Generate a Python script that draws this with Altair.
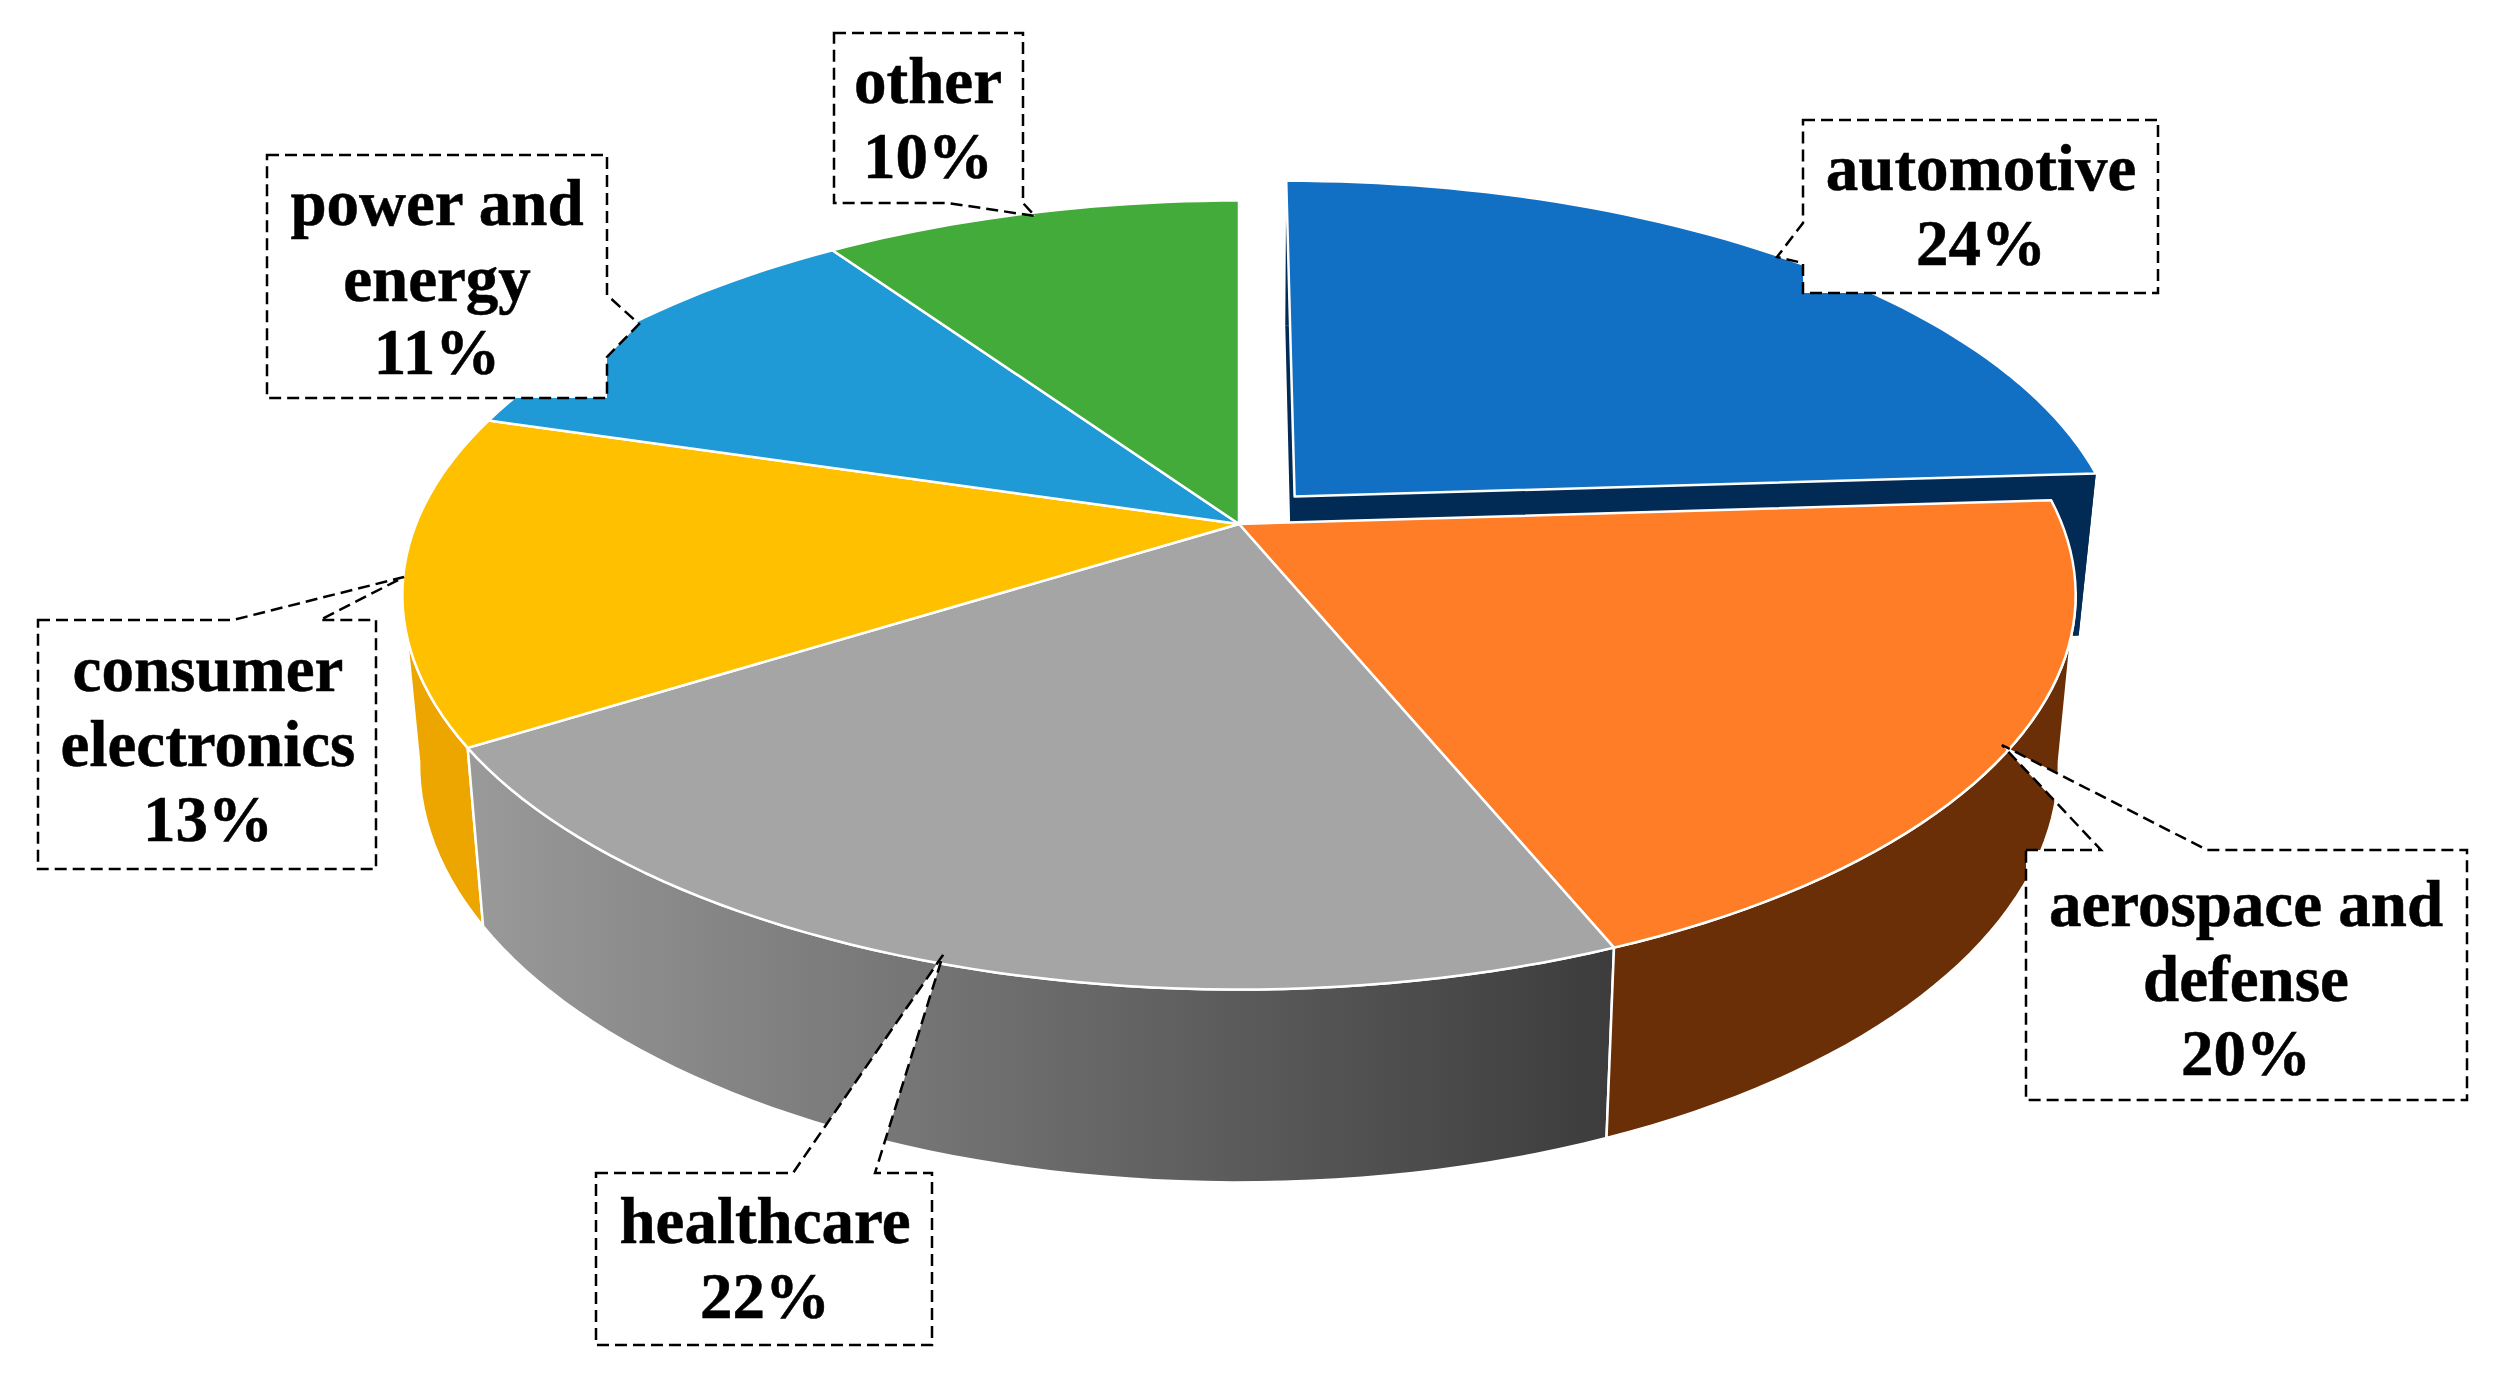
import math
import altair as alt

# ---- data -----------------------------------------------------------------
categories = ["automotive", "aerospace and defense", "healthcare",
              "consumer electronics", "power and energy", "other"]
shares = [24.0, 19.8, 22.3, 13.5, 10.8, 9.6]          # angular share of each slice
printed = ["24%", "20%", "22%", "13%", "11%", "10%"]  # percentages as printed
label_lines = [["automotive"], ["aerospace and", "defense"], ["healthcare"],
               ["consumer", "electronics"], ["power and", "energy"], ["other"]]

# ---- styles -----------------------------------------------------------------
top_colors = ["#1270C4", "#FF7D26", "#A5A5A5", "#FFC000", "#1F9AD6", "#43AB3A"]
wall_navy = "#012A55"
wall_brown = "#6A2F06"
wall_yellow = "#EDA600"
wall_gray = alt.LinearGradient(
    gradient="linear", x1=0, x2=1, y1=0, y2=0,
    stops=[alt.GradientStop(offset=0, color="#9A9A9A"),
           alt.GradientStop(offset=1, color="#3C3C3C")])

# ---- perspective of the disc (page pixels) ----------------------------------
CX, CY = 1239.0, 524.0
A, B, K = 823.0, 381.7, 0.18
DEPTH, SX, SY = 165.0, 0.98, 1.06
EXPLODE = 0.10
SIL_RIGHT, SIL_LEFT = 100.0, 260.0   # angles where the wall meets the outline


def project(u, v, low=False):
    w = 1 + K * v
    x, y = A * u / w, B * v / w
    if low:
        x, y = x * SX, y * SY - DEPTH
    return [CX + x, CY - y]


def rim(t0, t1, offset=(0, 0), low=False):
    n = max(2, int(abs(t1 - t0) / 1.5))
    pts = []
    for i in range(n + 1):
        t = math.radians(t0 + (t1 - t0) * i / n)
        pts.append(project(math.sin(t) + offset[0], math.cos(t) + offset[1], low))
    return pts


def feature(points):
    ring = points + [points[0]]
    return {"type": "Feature", "geometry": {"type": "Polygon", "coordinates": [ring]}, "properties": {}}


def shape(points, **mark):
    return (alt.Chart(alt.Data(values=[feature(points)]))
            .mark_geoshape(**mark)
            .project(type="identity", scale=1, translate=[-8, -8]))


edges = [0.0]
for s in shares:
    edges.append(edges[-1] + s * 3.6)

mid = math.radians((edges[0] + edges[1]) / 2)
off = (EXPLODE * math.sin(mid), EXPLODE * math.cos(mid))

layers = []
face = dict(stroke="white", strokeWidth=2.5, strokeJoin="round")

# exploded slice: its underside and walls sit behind everything
t0, t1 = edges[0], edges[1]
apex_top = project(off[0], off[1])
apex_low = project(off[0], off[1], low=True)
layers.append(shape([apex_low] + rim(t0, t1, off, low=True), fill=wall_navy))
layers.append(shape(rim(t0, t1, off) + rim(t1, t0, off, low=True), fill=wall_navy))
layers.append(shape([apex_top] + rim(t1, t1, off) + rim(t1, t1, off, low=True) + [apex_low], fill=wall_navy))

# outer walls of the front slices, trimmed at the outline of the disc
for i, fill in [(3, wall_yellow), (2, wall_gray), (1, wall_brown)]:
    a, b = max(edges[i], SIL_RIGHT), min(edges[i + 1], SIL_LEFT)
    layers.append(shape(rim(a, b) + rim(b, a, low=True), fill=fill, **face))

# top faces
for i in [1, 2, 3, 4, 5]:
    layers.append(shape([project(0, 0)] + rim(edges[i], edges[i + 1]), fill=top_colors[i], **face))
layers.append(shape([apex_top] + rim(t0, t1, off), fill=top_colors[0], **face))

# ---- call-outs (annotation placement, page pixels) --------------------------
callouts = [
    [[1803, 120], [2158, 120], [2158, 293], [1803, 293], [1803, 263], [1777, 257], [1803, 223]],
    [[2026, 850], [2101, 850], [2002, 745], [2207, 850], [2467, 850], [2467, 1100], [2026, 1100]],
    [[596, 1173], [793, 1173], [943, 955], [875, 1173], [932, 1173], [932, 1345], [596, 1345]],
    [[38, 620], [233, 620], [404, 577], [320, 620], [376, 620], [376, 869], [38, 869]],
    [[267, 155], [607, 155], [607, 295], [639, 324], [607, 357], [607, 398], [267, 398]],
    [[834, 33], [1023, 33], [1023, 203], [1035, 216], [948, 203], [834, 203]],
]
for poly in callouts:
    layers.append(shape(poly, fill="white", stroke="black", strokeWidth=2.5,
                        strokeDash=[12, 6], strokeJoin="miter"))

label_x = [1981, 2246, 765, 208, 437, 928]
label_y = [[170, 245], [906, 981, 1055], [1223, 1298], [671, 746, 821], [205, 281, 354], [83, 158]]

rows = []
for i, lines in enumerate(label_lines):
    for line, y in zip(lines + [printed[i]], label_y[i]):
        rows.append({"t": line, "x": label_x[i], "y": y})

text = alt.Chart(alt.Data(values=rows)).mark_text(
    font="Liberation Serif", fontWeight="bold", fontSize=65, color="black",
    stroke="black", strokeWidth=0.5, align="center", baseline="middle"
).encode(
    x=alt.X("x:Q", axis=None, scale=alt.Scale(domain=[8, 2491], nice=False, zero=False)),
    y=alt.Y("y:Q", axis=None, scale=alt.Scale(domain=[8, 1367], nice=False, zero=False, reverse=True)),
    text="t:N",
)
layers.append(text)

chart = alt.layer(*layers).properties(
    width=2483, height=1359, padding=0, autosize=alt.AutoSizeParams(type="none"),
    view=alt.ViewBackground(strokeWidth=0, stroke="transparent")
).configure_view(strokeWidth=0, stroke="transparent").configure(background="white")

chart.save("out.html", embed_options={"renderer": "svg", "actions": False})
